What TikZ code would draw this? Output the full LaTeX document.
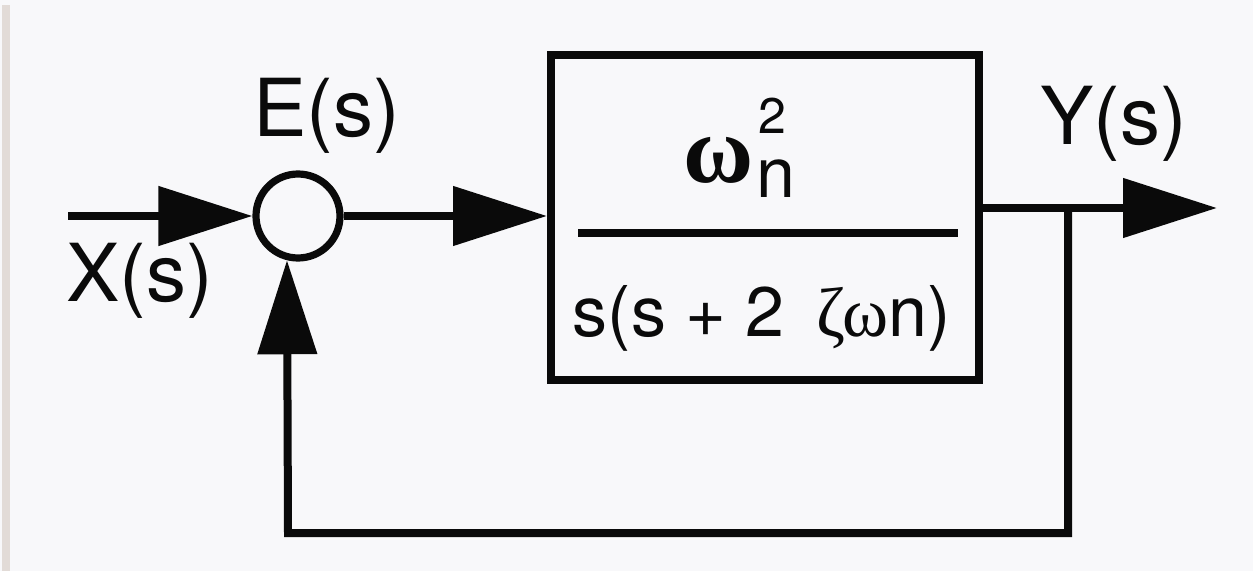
\documentclass[tikz,border=0pt]{standalone}
\usepackage{fontspec}
\setmainfont{TeX Gyre Heros}
\newfontfamily\grk{Liberation Serif}
\usetikzlibrary{arrows.meta}
\definecolor{bg}{HTML}{F8F8FA}
\definecolor{strip}{HTML}{E2DBD7}
\definecolor{ink}{HTML}{0A0A0A}
\begin{document}
\begin{tikzpicture}[x=0.5pt,y=-0.5pt,
  wire/.style={draw=ink,line width=4pt},
  tipA/.style={-{Triangle[length=47pt,width=29pt]}},
  lbl/.style={inner sep=0pt,font=\fontsize{40}{48}\selectfont,text=ink},
  txt/.style={inner sep=0pt,text=ink}]
\fill[bg] (0,0) rectangle (1253,571);
\fill[strip] (2,5) rectangle (10,571);
\useasboundingbox (0,0) rectangle (1253,571);

\node[circle, draw=ink, line width=3.6pt, minimum size=42pt, inner sep=0pt] (sum) at (298,216) {};
\node[draw=ink, line width=4pt, minimum width=214pt, minimum height=162.5pt, inner sep=0pt] (plant) at (765,217.5) {};

\coordinate (xin) at (68,216);
\coordinate (yout) at (1217,208);
\coordinate (br) at (1068,208);
\coordinate (bl) at (288,533);

\draw[wire,tipA] (xin) -- (sum.west);
\draw[wire,tipA] (sum.east) -- (plant.west |- sum.east);
\draw[wire,tipA] (plant.east |- yout) -- (yout);
\draw[wire,tipA] (br) |- (bl) -- (sum.256);

\node[lbl, anchor=base west] (E) at (253,137) {E(s)};
\node[lbl, anchor=base west] (X) at (66,302) {X(s)};
\node[lbl, anchor=base west] (Y) at (1040,145) {Y(s)};

\node[txt, anchor=base, font=\grk\bfseries\fontsize{48}{56}\selectfont] (om) at (719,183) {ω};
\node[txt, anchor=base west, font=\fontsize{35}{40}\selectfont] (n) at (756,198) {n};
\node[txt, anchor=base west, font=\fontsize{25}{28}\selectfont] (two) at (758,134) {2};
\node[fill=ink, inner sep=0pt, minimum width=190pt, minimum height=4pt] (bar) at (768,233) {};
\node[txt, anchor=base, font=\fontsize{35}{40}\selectfont] (den) at (762,337) {s(s + 2\hspace{0.45em}{\grk ζω}n)};
\end{tikzpicture}
\end{document}
